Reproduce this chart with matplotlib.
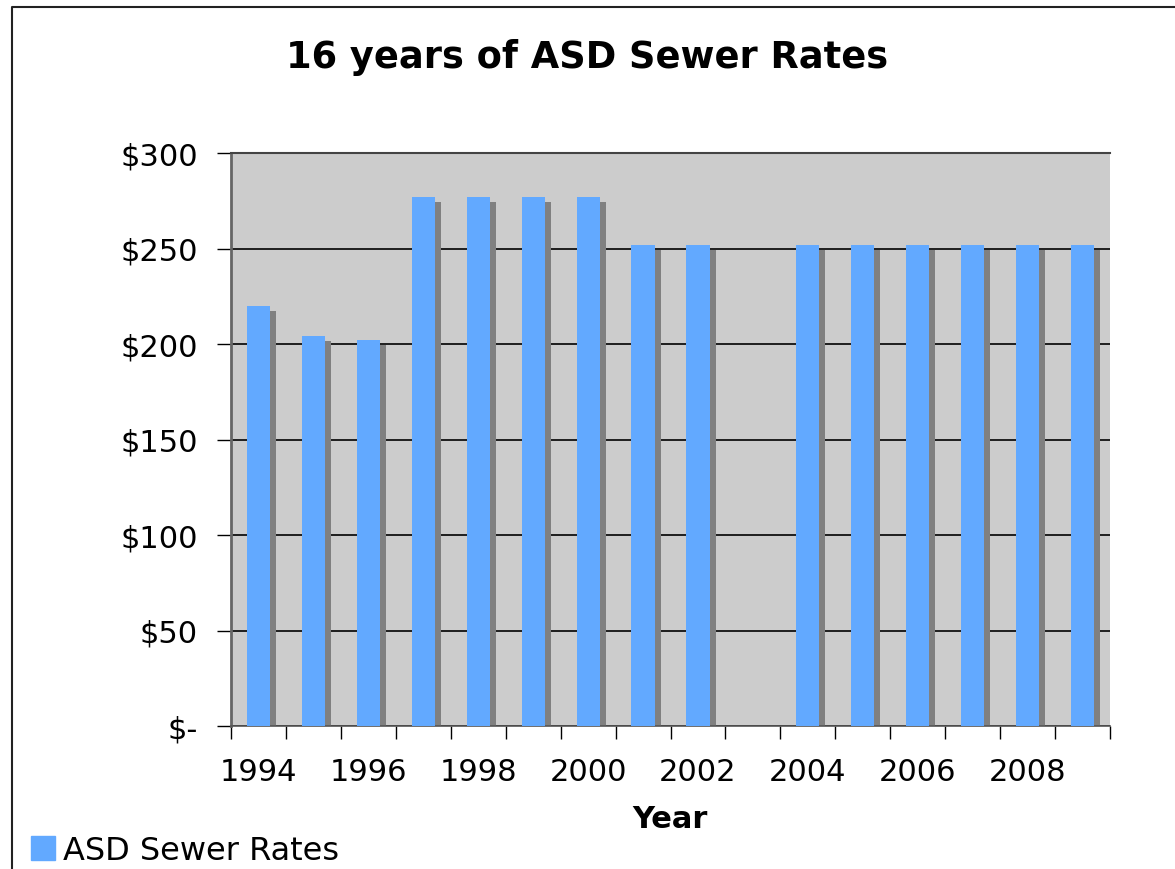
import matplotlib
matplotlib.use('Agg')
import matplotlib.pyplot as plt
import numpy as np
from matplotlib.patches import Rectangle
from matplotlib.lines import Line2D
from matplotlib.ticker import FuncFormatter, FixedLocator
from matplotlib.transforms import Bbox

years = [1994, 1995, 1996, 1997, 1998, 1999, 2000, 2001, 2002, 2003,
         2004, 2005, 2006, 2007, 2008, 2009]
rates = [220, 204, 202, 277, 277, 277, 277, 252, 252, np.nan,
         252, 252, 252, 252, 252, 252]
series_name = 'ASD Sewer Rates'

bar_color = '#62a9ff'
shadow_color = '#808080'

fig = plt.figure(figsize=(11.75, 8.7), dpi=100)
ax = fig.add_axes([231/1175, 1 - 727/870, (1110 - 231)/1175, (727 - 154)/870])

ind = np.arange(len(years))
vals = np.array(rates, dtype=float)
width = 0.42

# shadow behind the bars, shifted right and down a bit
ax.bar(ind + 0.11, vals - 2.6, width, color=shadow_color, zorder=2)
ax.bar(ind, vals, width, color=bar_color, zorder=3)

ax.set_facecolor('#cccccc')
ax.set_xlim(-0.5, len(years) - 0.5)
ax.set_ylim(0, 300)
ax.set_yticks(np.arange(0, 301, 50))
ax.yaxis.set_major_formatter(FuncFormatter(lambda v, p: '$-' if v == 0 else '$%d' % v))
ax.grid(axis='y', color='black', linewidth=1.2, zorder=1)
ax.set_axisbelow(True)

# ticks sit between categories, labels every other year
ax.xaxis.set_major_locator(FixedLocator(np.arange(-0.5, len(years), 1.0)))
ax.set_xticklabels([])
ax.set_xticks(ind[::2], [str(y) for y in years[::2]], minor=True)
ax.tick_params(axis='x', which='major', length=9, width=1, direction='out')
ax.tick_params(axis='x', which='minor', length=0, pad=22, labelsize=22)
ax.tick_params(axis='y', length=10, width=1, direction='out', pad=14, labelsize=22)

ax.spines['right'].set_visible(False)
ax.spines['left'].set_color('#666666')
ax.spines['left'].set_linewidth(2)
ax.spines['bottom'].set_color('#555555')
ax.spines['bottom'].set_linewidth(1.2)
ax.spines['top'].set_color('#444444')
ax.spines['top'].set_linewidth(1.5)

ax.set_xlabel('Year', fontsize=22, fontweight='bold', labelpad=13)

fig.text(0.5, 1 - 57/870, '16 years of ASD Sewer Rates', ha='center', va='center',
         fontsize=26.5, fontweight='bold')

# outer frame (only left and top visible)
fig.add_artist(Line2D([12/1175, 12/1175, 1.0], [0.0, 1 - 8/870, 1 - 8/870],
                      transform=fig.transFigure, color='#222222', linewidth=1.5))

# legend box at bottom left, text cut off on the right
fig.add_artist(Rectangle((31/1175, 1 - 861/870), 24/1175, 24/870,
                         transform=fig.transFigure, color=bar_color))
t = fig.text(63/1175, 1 - 860/870, series_name, ha='left', va='baseline', fontsize=23)
t.set_clip_box(Bbox.from_extents(0, 0, 342, 870))
t.set_clip_on(True)

fig.savefig('out.png', dpi=100)
